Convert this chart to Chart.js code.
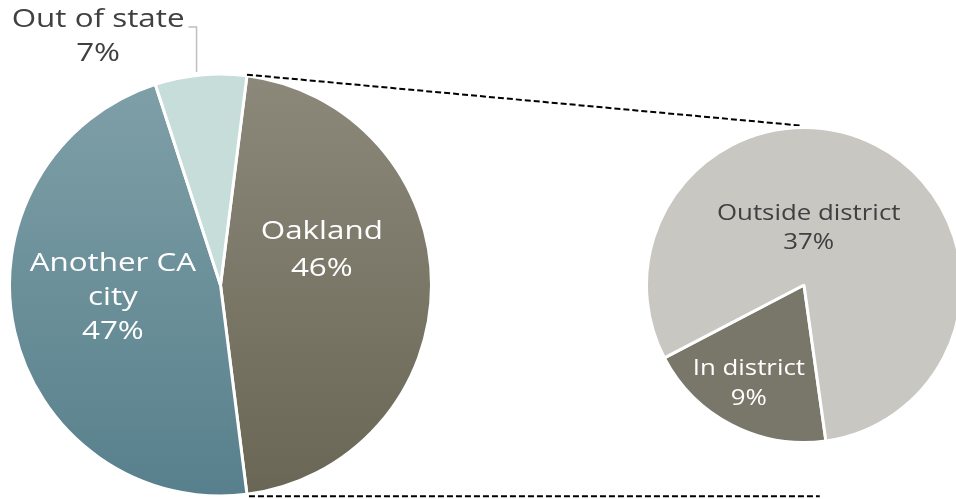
<!DOCTYPE html>
<html>
<head>
<meta charset="utf-8">
<script src="https://cdn.jsdelivr.net/npm/chart.js@4.4.0/dist/chart.umd.min.js"></script>
<style>
  html, body { margin: 0; padding: 0; background: #fff; overflow: hidden; }
  #wrap { position: relative; width: 956px; height: 499px; overflow: hidden; }
  #mainChart { position: absolute; left: 0; top: 0; }
  #subChart { position: absolute; left: 645px; top: 126px; }
</style>
</head>
<body>
<div id="wrap">
  <canvas id="mainChart" width="956" height="499"></canvas>
  <canvas id="subChart" width="318" height="318"></canvas>
</div>
<script>
// main pie: where the people live
const mainLabels = ['Oakland', 'Another CA city', 'Out of state'];
const mainLines = [['Oakland'], ['Another CA', 'city'], ['Out of state']];
const mainValues = [46, 47, 7];

// second pie: breakdown of the Oakland slice
const subLabels = ['In district', 'Outside district'];
const subLines = [['In district'], ['Outside district']];
const subValues = [9, 37];

const FONT = '"Open Sans", "DejaVu Sans", sans-serif';
const STRETCH = 1.23; // the original labels are set in a wide face

// label placement (offset from pie centre, fraction of radius) + text colour
const mainLabelPos = [
    { dx: 0.48, dy: -0.165, color: '#ffffff', size: 25.5, gap: 37 },
    { dx: -0.51, dy: 0.06, color: '#ffffff', size: 25.5, gap: 34 },
    { dx: -0.58, dy: -1.175, color: '#404040', size: 25.5, gap: 34, leader: true }
];
const subLabelPos = [
    { dx: -0.35, dy: 0.63, color: '#ffffff', size: 21, gap: 30 },
    { dx: 0.03, dy: -0.36, color: '#404040', size: 21, gap: 29 }
];

const mainColors = [['#8c897b', '#696655'], ['#80a0a8', '#57808c'], ['#c6ddd9', '#c6ddd9']];

function sliceFill(ctx) {
    const pair = mainColors[ctx.dataIndex] || mainColors[0];
    const chart = ctx.chart;
    const area = chart.chartArea;
    if (!area) return pair[0];
    const g = chart.ctx.createLinearGradient(0, area.top, 0, area.bottom);
    g.addColorStop(0, pair[0]);
    g.addColorStop(1, pair[1]);
    return g;
}

function drawLabels(chart, lines, values, pos) {
    const meta = chart.getDatasetMeta(0);
    const c = chart.ctx;
    meta.data.forEach((arc, i) => {
        const p = pos[i];
        const r = arc.outerRadius;
        const cx = arc.x + p.dx * r;
        const cy = arc.y + p.dy * r;
        const txt = lines[i].concat([values[i] + '%']);
        const y0 = cy - (txt.length - 1) * p.gap / 2;
        c.save();
        c.font = p.size + 'px ' + FONT;
        c.textAlign = 'center';
        c.textBaseline = 'middle';
        c.fillStyle = p.color;
        const w = c.measureText(txt[0]).width * STRETCH;
        c.translate(cx, 0);
        c.scale(STRETCH, 1);
        txt.forEach((t, k) => c.fillText(t, 0, y0 + k * p.gap));
        c.restore();

        if (p.leader) {
            // elbow line from slice edge up to the end of the first text line
            const mid = (arc.startAngle + arc.endAngle) / 2;
            const ex = arc.x + Math.cos(mid) * (r + 1) - 4;
            const ey = arc.y + Math.sin(mid) * (r + 1) - 2;
            const ty = y0 + 7;
            c.save();
            c.strokeStyle = '#bfbfbf';
            c.lineWidth = 1.5;
            c.beginPath();
            c.moveTo(cx + w / 2 + 4, ty);
            c.lineTo(ex, ty);
            c.lineTo(ex, ey);
            c.stroke();
            c.restore();
        }
    });
}

// ---- second pie (built first so the main one can connect to it)
const subChart = new Chart(document.getElementById('subChart'), {
    type: 'pie',
    data: {
        labels: subLabels,
        datasets: [{
            data: subValues,
            backgroundColor: ['#79766a', '#c8c7c2'],
            borderColor: '#ffffff',
            borderWidth: 3
        }]
    },
    options: {
        responsive: false,
        animation: false,
        rotation: 172,
        layout: { padding: 0 },
        plugins: { legend: { display: false }, tooltip: { enabled: false } }
    },
    plugins: [{
        id: 'subLabels',
        afterDraw(chart) { drawLabels(chart, subLines, subValues, subLabelPos); }
    }]
});

const mainTotal = mainValues.reduce((a, b) => a + b, 0);

const mainChart = new Chart(document.getElementById('mainChart'), {
    type: 'pie',
    data: {
        labels: mainLabels,
        datasets: [{
            data: mainValues,
            backgroundColor: sliceFill,
            borderColor: '#ffffff',
            borderWidth: 3
        }]
    },
    options: {
        responsive: false,
        animation: false,
        // centre the Oakland slice on the right, facing the second pie
        rotation: 90 - mainValues[0] / mainTotal * 180,
        layout: { padding: { left: 8, top: 72, right: 523, bottom: 1 } },
        plugins: { legend: { display: false }, tooltip: { enabled: false } }
    },
    plugins: [{
        id: 'mainLabels',
        afterDraw(chart) {
            drawLabels(chart, mainLines, mainValues, mainLabelPos);

            // dashed connectors from the Oakland slice to the second pie
            const arc = chart.getDatasetMeta(0).data[0];
            const sub = subChart.getDatasetMeta(0).data[0];
            const box = document.getElementById('subChart');
            const sx = box.offsetLeft + sub.x;
            const sy = box.offsetTop + sub.y;
            const sr = sub.outerRadius;
            const r = arc.outerRadius;
            const ax1 = arc.x + Math.cos(arc.startAngle) * r;
            const ay1 = arc.y + Math.sin(arc.startAngle) * r;
            const ax2 = arc.x + Math.cos(arc.endAngle) * r;
            const ay2 = arc.y + Math.sin(arc.endAngle) * r;
            const c = chart.ctx;
            c.save();
            c.strokeStyle = '#000000';
            c.lineWidth = 2;
            c.setLineDash([6, 3]);
            c.beginPath();
            c.moveTo(ax1, ay1 - 1);
            c.lineTo(sx - 4, sy - sr - 2);
            c.moveTo(ax2 + 2, ay2 + 2);
            c.lineTo(sx + sr * 0.1, ay2 + 2);
            c.stroke();
            c.restore();
        }
    }]
});
</script>
</body>
</html>
